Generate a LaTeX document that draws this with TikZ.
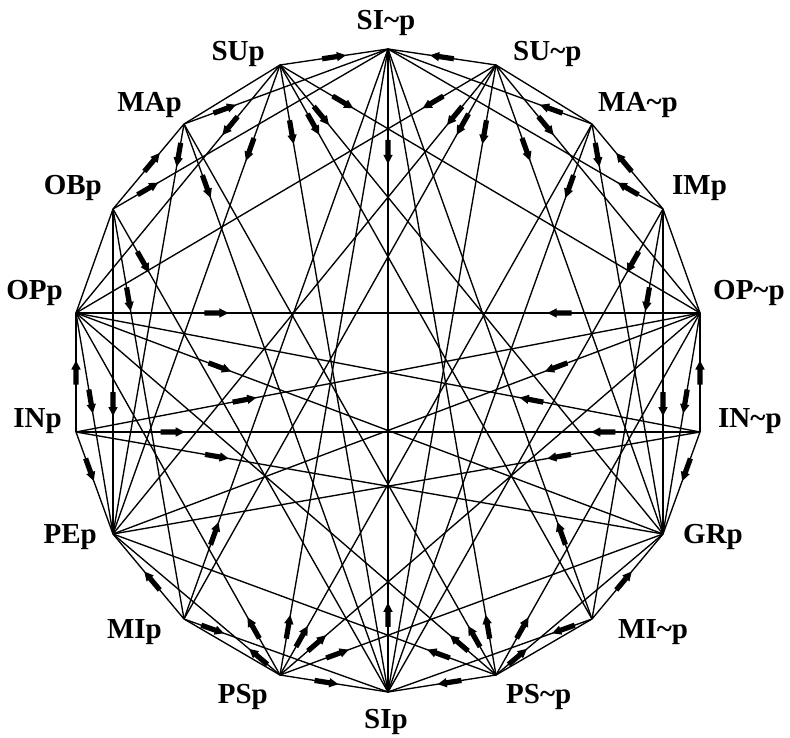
\documentclass[tikz,border=0pt]{standalone}
\usepackage{fontspec}
\setmainfont{Liberation Serif}
\usetikzlibrary{decorations.markings}
\newcommand\arrmark{\fill (-12pt,-2.6pt) -- (3pt,-2.6pt) -- (3pt,-4.7pt) -- (12pt,0pt) -- (3pt,4.7pt) -- (3pt,2.6pt) -- (-12pt,2.6pt) -- cycle;}
\tikzset{
  edge/.style={line width=1.35pt},
  imp/.style={edge, postaction={decorate}, decoration={markings, mark=at position #1 with {\arrmark}}},
  lab/.style={font=\fontsize{29}{30}\selectfont\bfseries, inner sep=0pt},
}
\begin{document}
\begin{tikzpicture}[x=1pt,y=-1pt]
\useasboundingbox (0,0) rectangle (790,738);
\fill[white] (0,0) rectangle (790,738);
% vertices
\coordinate (SIn) at (388,49);
\coordinate (SUn) at (496,65);
\coordinate (MAn) at (592,124);
\coordinate (IMp) at (663,209);
\coordinate (OPn) at (700,313);
\coordinate (INn) at (700,432);
\coordinate (GRp) at (663,534);
\coordinate (MIn) at (592,619);
\coordinate (PSn) at (496,675);
\coordinate (SIp) at (388,692);
\coordinate (PSp) at (280,675);
\coordinate (MIp) at (184,619);
\coordinate (PEp) at (113,534);
\coordinate (INp) at (76,432);
\coordinate (OPp) at (76,313);
\coordinate (OBp) at (113,209);
\coordinate (MAp) at (184,124);
\coordinate (SUp) at (280,65);
% labels
\node[lab, anchor=base] (tSIn) at (386,30) {SI\textasciitilde p};
\node[lab, anchor=base west] (tSUn) at (513,61) {SU\textasciitilde p};
\node[lab, anchor=base west] (tMAn) at (598,112) {MA\textasciitilde p};
\node[lab, anchor=base west] (tIMp) at (672,195) {IMp};
\node[lab, anchor=base west] (tOPn) at (713,299) {OP\textasciitilde p};
\node[lab, anchor=base west] (tINn) at (718,427) {IN\textasciitilde p};
\node[lab, anchor=base west] (tGRp) at (683,543) {GRp};
\node[lab, anchor=base west] (tMIn) at (618,638) {MI\textasciitilde p};
\node[lab, anchor=base west] (tPSn) at (506,703) {PS\textasciitilde p};
\node[lab, anchor=base] (tSIp) at (386,728) {SIp};
\node[lab, anchor=base east] (tPSp) at (268,703) {PSp};
\node[lab, anchor=base east] (tMIp) at (162,638) {MIp};
\node[lab, anchor=base east] (tPEp) at (97,543) {PEp};
\node[lab, anchor=base east] (tINp) at (62,427) {INp};
\node[lab, anchor=base east] (tOPp) at (63,299) {OPp};
\node[lab, anchor=base east] (tOBp) at (102,195) {OBp};
\node[lab, anchor=base east] (tMAp) at (182,112) {MAp};
\node[lab, anchor=base east] (tSUp) at (265,61) {SUp};
% plain outline sides
\draw[edge] (SUp) -- (MAp);
\draw[edge] (OBp) -- (OPp);
\draw[edge] (MIp) -- (PSp);
\draw[edge] (SUn) -- (MAn);
\draw[edge] (IMp) -- (OPn);
\draw[edge] (MIn) -- (PSn);
% SI
\draw[imp=0.16] (SIn) -- (SIp);
\draw[imp=0.12] (SIp) -- (SIn);
% SUp / SU~p
\draw[imp=0.5] (SUp) -- (SIn);
\draw[imp=0.245] (SUp) -- (OPp);
\draw[imp=0.18] (SUp) -- (PEp);
\draw[imp=0.107] (SUp) -- (SIp);
\draw[imp=0.107] (SUp) -- (MIn);
\draw[imp=0.108] (SUp) -- (GRp);
\draw[imp=0.15] (SUp) -- (OPn);
\draw[imp=0.5] (SUn) -- (SIn);
\draw[imp=0.245] (SUn) -- (OPn);
\draw[imp=0.18] (SUn) -- (GRp);
\draw[imp=0.107] (SUn) -- (SIp);
\draw[imp=0.107] (SUn) -- (MIp);
\draw[imp=0.108] (SUn) -- (PEp);
\draw[imp=0.15] (SUn) -- (OPp);
% OBp / IMp
\draw[imp=0.55] (OBp) -- (MAp);
\draw[imp=0.127] (OBp) -- (SIn);
\draw[imp=0.11] (OBp) -- (SIp);
\draw[imp=0.22] (OBp) -- (MIp);
\draw[imp=0.6] (OBp) -- (PEp);
\draw[imp=0.55] (IMp) -- (MAn);
\draw[imp=0.127] (IMp) -- (SIn);
\draw[imp=0.11] (IMp) -- (SIp);
\draw[imp=0.22] (IMp) -- (MIn);
\draw[imp=0.6] (IMp) -- (GRp);
% MAp / MA~p
\draw[imp=0.2] (MAp) -- (SIn);
\draw[imp=0.11] (MAp) -- (SIp);
\draw[imp=0.075] (MAp) -- (PEp);
\draw[imp=0.2] (MAn) -- (SIn);
\draw[imp=0.11] (MAn) -- (SIp);
\draw[imp=0.075] (MAn) -- (GRp);
% MIp / MI~p
\draw[imp=0.45] (MIp) -- (PEp);
\draw[imp=0.15] (MIp) -- (SIn);
\draw[imp=0.14] (MIp) -- (SIp);
\draw[imp=0.45] (MIn) -- (GRp);
\draw[imp=0.15] (MIn) -- (SIn);
\draw[imp=0.14] (MIn) -- (SIp);
% PSp / PS~p
\draw[imp=0.43] (PSp) -- (SIp);
\draw[imp=0.077] (PSp) -- (SIn);
\draw[imp=0.07] (PSp) -- (MAn);
\draw[imp=0.088] (PSp) -- (OPn);
\draw[imp=0.15] (PSp) -- (GRp);
\draw[imp=0.13] (PSp) -- (OPp);
\draw[imp=0.13] (PSp) -- (PEp);
\draw[imp=0.43] (PSn) -- (SIp);
\draw[imp=0.077] (PSn) -- (SIn);
\draw[imp=0.07] (PSn) -- (MAp);
\draw[imp=0.088] (PSn) -- (OPp);
\draw[imp=0.15] (PSn) -- (PEp);
\draw[imp=0.13] (PSn) -- (OPn);
\draw[imp=0.13] (PSn) -- (GRp);
% INp / IN~p
\draw[imp=0.5] (INp) -- (OPp);
\draw[imp=0.37] (INp) -- (PEp);
\draw[imp=0.155] (INp) -- (INn);
\draw[imp=0.27] (INp) -- (OPn);
\draw[imp=0.24] (INp) -- (GRp);
\draw[imp=0.5] (INn) -- (OPn);
\draw[imp=0.37] (INn) -- (GRp);
\draw[imp=0.155] (INn) -- (INp);
\draw[imp=0.27] (INn) -- (OPp);
\draw[imp=0.24] (INn) -- (PEp);
% OPp / OP~p
\draw[imp=0.225] (OPp) -- (OPn);
\draw[imp=0.4] (OPp) -- (PEp);
\draw[imp=0.245] (OPp) -- (GRp);
\draw[imp=0.225] (OPn) -- (OPp);
\draw[imp=0.4] (OPn) -- (GRp);
\draw[imp=0.245] (OPn) -- (PEp);
\end{tikzpicture}
\end{document}
